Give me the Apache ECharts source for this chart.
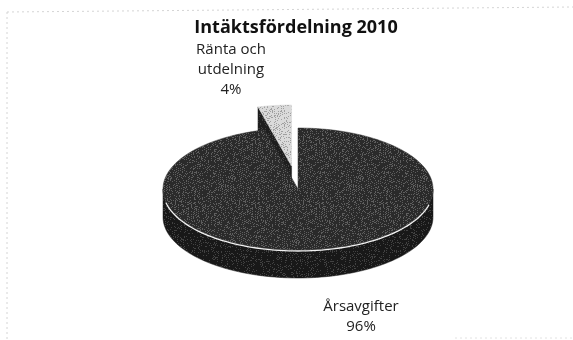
<!DOCTYPE html>
<html>
<head>
<meta charset="utf-8">
<script src="https://cdn.jsdelivr.net/npm/echarts@6/dist/echarts.min.js"></script>
<style>
  html, body { margin: 0; padding: 0; background: #fff; }
  #chart { width: 573px; height: 340px; }
</style>
</head>
<body>
<div id="chart"></div>
<script>
const categories = ['Ränta och\nutdelning', 'Årsavgifter'];
const values = [4, 96];
const title = 'Intäktsfördelning 2010';

// 3D pie geometry (pixels)
const CX = 298, CY = 189, RX = 135, RY = 61, DEPTH = 28;
const FIRST_ANGLE = -14.4;        // degrees, clockwise from 12 o'clock
const EXPLODE = [0.38, 0];        // fraction of radius per slice
const LABEL_POS = [[231, 70], [361, 317]];
const TOP_COLORS = ['#d6d6d6', '#343434'];
const SIDE_COLORS = ['#1e1e1e', '#1b1b1b'];

// speckled texture like the scanned print
function speckle(base, spot, density, seed) {
  const c = document.createElement('canvas');
  c.width = 64; c.height = 64;
  const ctx = c.getContext('2d');
  ctx.fillStyle = base;
  ctx.fillRect(0, 0, 64, 64);
  ctx.fillStyle = spot;
  let s = seed;
  const next = () => { s = (s * 1103515245 + 12345) % 2147483648; return (s >>> 12) % 64; };
  for (let i = 0; i < 64 * 64 * density; i++) {
    const x = next(), y = next();
    ctx.fillRect(x, y, 1, 1);
  }
  return { image: c, repeat: 'repeat' };
}
const topFill = [speckle('#dadada', '#a0a0a0', 0.3, 7), speckle('#2a2a2a', '#5e5e5e', 0.3, 11)];
const sideFill = [speckle('#1e1e1e', '#404040', 0.2, 3), speckle('#181818', '#424242', 0.2, 5)];

const total = values.reduce((a, b) => a + b, 0);
const rad = d => d * Math.PI / 180;

function pt(t, dx, dy, down) {
  return [CX + dx + RX * Math.sin(rad(t)), CY + dy - RY * Math.cos(rad(t)) + (down || 0)];
}
function arc(a0, a1, dx, dy, down) {
  const pts = [];
  const n = Math.max(2, Math.ceil(Math.abs(a1 - a0) / 2));
  for (let i = 0; i <= n; i++) pts.push(pt(a0 + (a1 - a0) * i / n, dx, dy, down));
  return pts;
}

const chart = echarts.init(document.getElementById('chart'));

chart.setOption({
  animation: false,
  title: {
    text: title,
    left: 291, top: 14, textAlign: 'center',
    textStyle: { fontFamily: 'Open Sans', fontWeight: 'bold', fontSize: 18, color: '#111' }
  },
  graphic: [
    { type: 'line', shape: { x1: 7, y1: 12, x2: 573, y2: 7 }, style: { stroke: '#d4d4d4', lineWidth: 1, lineDash: [2, 3] } },
    { type: 'line', shape: { x1: 7, y1: 12, x2: 7, y2: 340 }, style: { stroke: '#d4d4d4', lineWidth: 1, lineDash: [2, 3] } },
    { type: 'line', shape: { x1: 455, y1: 338, x2: 573, y2: 338 }, style: { stroke: '#e2e2e2', lineWidth: 1, lineDash: [2, 3] } }
  ],
  series: [{
    type: 'custom',
    coordinateSystem: 'none',
    data: values,
    renderItem: function (params, api) {
      const i = params.dataIndex;
      let start = FIRST_ANGLE;
      for (let k = 0; k < i; k++) start += values[k] / total * 360;
      const end = start + values[i] / total * 360;
      const mid = (start + end) / 2;
      const dx = EXPLODE[i] * RX * Math.sin(rad(mid));
      const dy = -EXPLODE[i] * RY * Math.cos(rad(mid));
      const c = [CX + dx, CY + dy];
      const children = [];
      const base = i === 0 ? 0 : 10;

      // radial wall at the start edge (visible for the exploded back slice)
      if (EXPLODE[i] > 0) {
        const p = pt(start, dx, dy);
        children.push({
          type: 'polygon', z2: base,
          shape: { points: [c, p, [p[0], p[1] + DEPTH], [c[0], c[1] + DEPTH]] },
          style: { fill: sideFill[i], stroke: SIDE_COLORS[i], lineWidth: 0.5 }
        });
      }
      // front side wall (front half of the ellipse is 90..270)
      const s0 = Math.max(start, 90), s1 = Math.min(end, 270);
      if (s1 > s0) {
        const topArc = arc(s0, s1, dx, dy);
        const botArc = arc(s1, s0, dx, dy, DEPTH);
        children.push({
          type: 'polygon', z2: base + 1,
          shape: { points: topArc.concat(botArc) },
          style: { fill: sideFill[i], stroke: SIDE_COLORS[i], lineWidth: 0.5 }
        });
      }
      // top face
      children.push({
        type: 'polygon', z2: base + 2,
        shape: { points: [c].concat(arc(start, end, dx, dy)) },
        style: { fill: topFill[i], stroke: TOP_COLORS[i], lineWidth: 0.5 }
      });
      // white rim highlight
      if (s1 > s0) {
        children.push({
          type: 'polyline', z2: base + 3,
          shape: { points: arc(s0 + 14, s1 - 12, dx, dy, 1) },
          style: { fill: null, stroke: '#f2f2f2', lineWidth: 1.3 }
        });
      }
      // label
      const pct = Math.round(values[i] / total * 100) + '%';
      children.push({
        type: 'text', z2: base + 4,
        x: LABEL_POS[i][0], y: LABEL_POS[i][1],
        style: {
          text: categories[i] + '\n' + pct,
          fontFamily: 'Open Sans', fontSize: 15, lineHeight: 20,
          fill: '#222', align: 'center', verticalAlign: 'middle'
        }
      });
      return { type: 'group', children: children };
    }
  }]
});
</script>
</body>
</html>
